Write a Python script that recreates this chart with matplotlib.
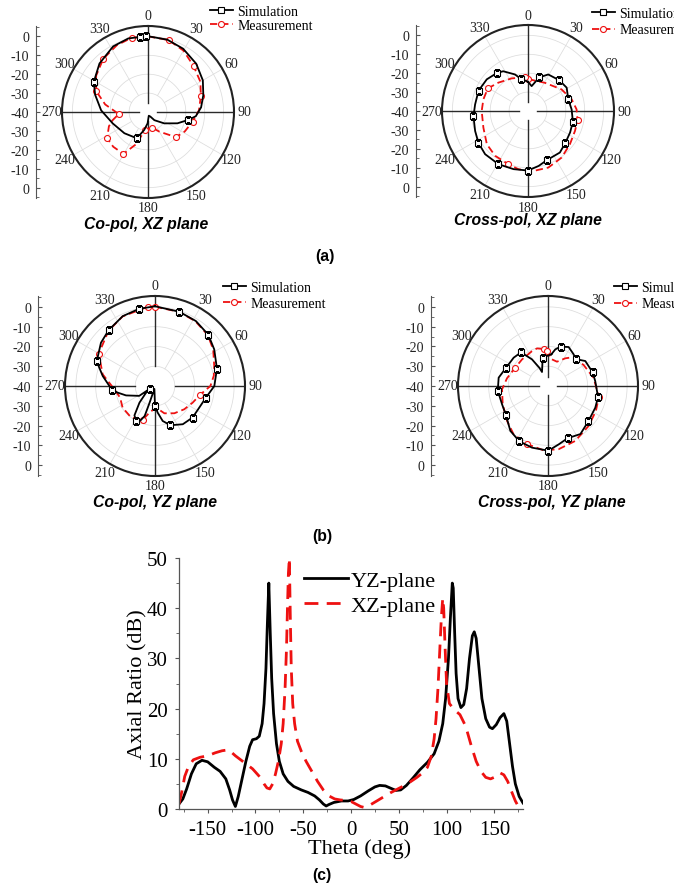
import numpy as np
import matplotlib
matplotlib.use('Agg')
import matplotlib.pyplot as plt
from matplotlib.ticker import MultipleLocator

# ---------------- data ----------------
# (a) Co-pol, XZ plane
copol_xz_sim_theta = [0, 15, 29, 45, 60, 73, 85, 95, 101, 111, 125, 142, 153, 168, 182, 192, 203, 228, 252, 272, 288, 299, 315, 332, 345, 354, 358.5]
copol_xz_sim_db = [0.1, -0.4, -1.7, -3.9, -6.5, -9.4, -11.8, -14.6, -18.2, -23.3, -29.5, -34.5, -37.3, -38, -34, -30.3, -24.9, -23.2, -20.4, -15.2, -10.6, -7.2, -3.7, -0.7, 0.3, -0.1, 0.1]
copol_xz_sim_marks = [101, 203, 299, 354, 358.5]
copol_xz_mea_theta = [0, 16, 30, 44.6, 60, 73.2, 88, 102.2, 118, 132, 150, 165.7, 189.5, 200, 210.4, 225, 237.3, 250, 257, 266, 280, 292, 305, 320, 335, 347.6]
copol_xz_mea_db = [0, -0.4, -2.5, -5.7, -8, -10.8, -13, -15.9, -18, -20.1, -28, -31.5, -30.4, -22, -14.3, -14, -14.3, -18, -20.8, -24.5, -17, -10.4, -6.5, -3.2, -1, 0.2]
copol_xz_mea_marks = [16, 44.6, 73.2, 102.2, 132, 165.7, 189.5, 210.4, 237.3, 266, 292, 320, 347.6]

# (a) Cross-pol, XZ plane
xpol_xz_sim_theta = [0, 8.3, 18.6, 29, 45.3, 58.9, 73.4, 88, 103.3, 117, 130.6, 142.5, 158.5, 169, 180, 194, 209, 224.8, 237.2, 249.3, 264.4, 277, 292.3, 307.5, 320.5, 328, 340.5, 347.7]
xpol_xz_sim_db = [-24.5, -26.7, -21.2, -17.9, -16.8, -16.1, -17.8, -16.9, -15.6, -15, -14, -12.3, -12.2, -10.4, -8.5, -8.3, -7.8, -7.8, -8.8, -10.1, -11.0, -11.8, -11.7, -12.5, -14.0, -15.2, -19.5, -22.7]
xpol_xz_sim_marks = [18.6, 45.3, 73.4, 103.3, 130.6, 158.5, 180, 209, 237.2, 264.4, 292.3, 320.5, 347.7]
xpol_xz_mea_theta = [0.6, 16, 31, 57.2, 75, 88, 100.6, 113, 128.4, 144.2, 160.3, 176.5, 189.4, 200.2, 216.3, 231, 249.5, 270, 284.6, 299.3, 313.7, 333.4, 354.9]
xpol_xz_mea_db = [-23.1, -23.5, -22.6, -18.9, -16.1, -14.3, -13.3, -13, -11.7, -9.6, -8.2, -8, -8.8, -10, -10.6, -12, -14.8, -15.5, -15.6, -15.6, -18.3, -20.7, -22.1]
xpol_xz_mea_marks = [0.6, 100.6, 200.2, 299.3, 354.9]

# (b) Co-pol, YZ plane
copol_yz_sim_theta = [0, 18.1, 32.2, 46.1, 58.3, 74.4, 90, 102.9, 116, 130, 144, 158.7, 167.6, 174.3, 180, 183, 192, 198, 199, 203, 208.5, 215, 223, 232, 242, 238, 252, 260, 264.7, 280.8, 292.9, 308.7, 320.4, 335.2, 348.5]
copol_yz_sim_db = [0.3, -0.5, -1.2, -2.6, -4.8, -7.5, -10, -13.6, -15.1, -15.2, -16.1, -18.7, -21.9, -26.5, -29.9, -36, -38.5, -31, -24, -21, -19.9, -21.9, -28.5, -34, -37.1, -30.6, -24.6, -20.8, -18.2, -13.1, -8.0, -5.0, -3.3, -1.1, -0.15]
copol_yz_sim_marks = [18.1, 46.1, 74.4, 102.9, 130, 158.7, 180, 208.5, 242, 264.7, 292.9, 320.4, 348.5]
copol_yz_mea_theta = [0, 18, 32, 46, 58, 71.4, 80, 90, 100.8, 113.9, 128.5, 144.7, 161, 177.4, 192, 200, 217, 236.2, 251.6, 265.3, 282.6, 299.9, 320, 335, 354.7]
copol_yz_mea_db = [0.1, -0.6, -1.4, -2.9, -5.3, -8.4, -9.8, -12, -16.7, -19.2, -21.1, -23.1, -25.4, -29.1, -26.2, -21.7, -20, -20.3, -21.4, -19.4, -12.9, -7.2, -3.5, -1.2, 0.2]
copol_yz_mea_marks = [0, 100.8, 200, 299.9, 354.7]

# (b) Cross-pol, YZ plane
xpol_yz_sim_theta = [6, 11.3, 17.8, 27.9, 39, 45.7, 56.2, 73, 84, 102.4, 114.6, 131.2, 146, 159.4, 169.6, 179.7, 194.5, 207.4, 220, 235.9, 248.3, 264.7, 279.6, 292.7, 309.5, 321.3, 329, 334.7, 336.8, 349, 358]
xpol_yz_sim_db = [-23.9, -21.1, -19.1, -17.7, -19.4, -20.5, -17.3, -16.4, -16, -14.1, -13.7, -12.9, -10.7, -11.8, -10, -7.3, -7.8, -8.5, -10.4, -14.2, -15, -14.5, -14.7, -16.8, -17.5, -18.2, -24.3, -29.8, -32.3, -25.8, -24.8]
xpol_yz_sim_marks = [17.8, 45.7, 73, 102.4, 131.2, 159.4, 179.7, 207.4, 235.9, 264.7, 292.7, 321.3, 349]
xpol_yz_mea_theta = [8.5, 20.3, 32, 41.5, 59.5, 79.7, 101.8, 117.5, 134.5, 153.6, 170.4, 183.9, 200.2, 215.4, 229.5, 248, 265.9, 280.6, 298.6, 315.7, 335.4, 343.7, 353.8, 358.9]
xpol_yz_mea_db = [-26.4, -26.9, -23.5, -20.5, -19.1, -16.6, -13.7, -12.7, -11.2, -9, -7.6, -7.4, -8.8, -10, -12.8, -15.3, -16.7, -18.9, -21, -21.2, -20.6, -20.2, -21.2, -22.5]
xpol_yz_mea_marks = [101.8, 200.2, 298.6, 353.8, 358.9]

# (c) Axial ratio
theta_yz = [-180, -176, -172, -167, -162, -156, -150, -143, -137, -131, -127, -124, -121, -118, -114, -110, -106, -103, -99, -96, -93, -91, -89, -87.5, -86, -84.5, -83, -81, -78, -75, -71, -66, -60, -52, -45, -38, -33, -29, -26, -23, -18, -10, -3, 3, 10, 18, 25, 30, 36, 42, 47, 52, 58, 65, 72, 80, 87, 92, 96, 99, 102, 104, 106, 107, 108.5, 110, 112, 115, 118, 121, 124, 127, 129, 131, 134, 137, 141, 145, 148, 152, 156, 160, 163, 166, 169, 172, 176, 180]
ar_yz = [1.0, 2.0, 4.0, 7.0, 9.0, 9.7, 9.4, 8.3, 7.5, 6.0, 3.8, 1.8, 0.5, 2.5, 6.0, 9.5, 12.5, 13.8, 14.0, 14.5, 17, 21, 28, 37, 45, 35, 26, 19, 13, 9.5, 7.0, 5.5, 4.5, 3.8, 3.3, 2.6, 1.8, 1.0, 0.6, 0.9, 1.3, 1.6, 1.6, 1.9, 2.6, 3.6, 4.4, 4.7, 4.6, 4.1, 3.7, 3.8, 4.7, 6.2, 7.8, 9.3, 11, 13.5, 17, 22, 30, 38, 45, 44, 35, 27, 22, 20.2, 20.8, 24, 30, 34.5, 35.3, 34, 28, 22, 18, 16.3, 16, 16.8, 18.2, 19, 17.5, 13, 8.5, 5, 2.5, 1.2]
theta_xz = [-180, -177, -174, -170, -165, -158, -150, -142, -135, -128, -121, -112, -103, -95, -91, -88, -85, -82, -79, -76, -73, -71, -69, -67.5, -66.5, -65.5, -64.5, -63.5, -62.5, -61, -59, -56, -52, -47, -41, -35, -29, -23, -17, -11, -5, 0, 5, 10, 14, 20, 27, 34, 41, 48, 55, 62, 69, 75, 80, 84, 87, 89, 91, 93, 94.5, 96, 97, 98.5, 100, 103, 108, 114, 120, 126, 131, 136, 141, 146, 151, 156, 160, 164, 168, 172, 176]
ar_xz = [1.0, 3.5, 6.5, 8.5, 9.8, 10.3, 10.6, 11.2, 11.6, 11.8, 10.6, 9.3, 8.0, 6.3, 5.0, 4.2, 4.0, 5.0, 7.0, 9.5, 13, 17, 24, 32, 40, 47, 50, 38, 28, 21, 17, 13.5, 11.5, 9.5, 7.5, 5.5, 3.8, 2.6, 2.0, 1.8, 1.7, 1.5, 1.0, 0.5, 0.3, 0.8, 1.6, 2.4, 3.2, 3.9, 4.6, 5.4, 6.3, 7.2, 8.3, 10.5, 14, 18, 24, 32, 38, 42, 40, 32, 25, 21, 19.8, 18.8, 16.5, 12.5, 9.5, 7.5, 6.3, 6.0, 6.4, 7.2, 6.8, 5.5, 3.5, 1.6, 0.2]

polar_angle_labels = list(range(0, 360, 30))
radial_tick_labels = ['0', '-10', '-20', '-30', '-40', '-30', '-20', '-10', '0']
legend_labels = ['Simulation', 'Measurement']
ar_legend = ['YZ-plane', 'XZ-plane']

# ---------------- figure ----------------
W, H = 674, 887
fig = plt.figure(figsize=(W / 100, H / 100), dpi=100)
SERIF = 'Liberation Serif'
SANS = 'Liberation Sans'
RED = '#ee1111'
GRID = '#dcdcdc'
RMIN, RMAX = -40, 5.5


def fx(px):
    return px / W


def fy(py):
    return 1 - py / H


def marker_idx(theta, marks):
    return [list(theta).index(m) for m in marks]


def polar_panel(cx, cy, R, axis_x, hole, st, sr, sm, mt, mr, mm,
                title, tx, ty, legx, legy, legsp):
    ax = fig.add_axes([fx(cx - R), fy(cy + R), 2 * R / W, 2 * R / H], projection='polar')
    ax.set_theta_zero_location('N')
    ax.set_theta_direction(-1)
    circ = np.linspace(0, 2 * np.pi, 361)
    for lev in [-30, -20, -10, 0]:
        ax.plot(circ, np.full_like(circ, lev), color=GRID, lw=0.55, zorder=1)
    for a in range(0, 360, 30):
        if a % 90:
            ax.plot([np.deg2rad(a)] * 2, [-30, RMAX], color=GRID, lw=0.55, zorder=1)
        else:
            ax.plot([np.deg2rad(a)] * 2, [hole, RMAX], color='#2a2a2a', lw=1.0, zorder=2)
    t = np.append(st, st[0] + 360)
    r = np.append(sr, sr[0])
    l1, = ax.plot(np.deg2rad(t), r, color='black', lw=1.3, marker='s', ms=4,
                  mfc='white', mec='black', mew=0.8, markevery=marker_idx(st, sm), zorder=4)
    t = np.append(mt, mt[0] + 360)
    r = np.append(mr, mr[0])
    l2, = ax.plot(np.deg2rad(t), r, color=RED, lw=1.3, dashes=(4, 2.2), marker='o', ms=4.3,
                  mfc='white', mec=RED, mew=0.8, markevery=marker_idx(mt, mm), zorder=3)
    ax.set_ylim(RMIN, RMAX)
    ax.grid(False)
    ax.set_xticks([])
    ax.set_yticks([])
    ax.spines['polar'].set_linewidth(1.5)
    ax.spines['polar'].set_color('#222222')
    r_lab = RMIN + (R + 10) / (R / (RMAX - RMIN))
    for a in polar_angle_labels:
        ax.text(np.deg2rad(a), r_lab, str(a), ha='center', va='center',
                fontsize=10, family=SERIF, color='#222222')
    # linear dB axis on the left
    la = fig.add_axes([fx(axis_x), fy(cy + R), 0.0001, 2 * R / H])
    la.set_ylim(-(RMAX - RMIN), RMAX - RMIN)
    la.set_yticks([40, 30, 20, 10, 0, -10, -20, -30, -40])
    la.set_yticklabels(radial_tick_labels, fontsize=10, family=SERIF, color='#222222')
    la.yaxis.set_minor_locator(MultipleLocator(5))
    la.set_xticks([])
    for s in ['top', 'right', 'bottom']:
        la.spines[s].set_visible(False)
    la.spines['left'].set_color('#555555')
    la.spines['left'].set_linewidth(0.8)
    la.tick_params(axis='y', which='major', direction='in', length=3, pad=5, color='#555555')
    la.tick_params(axis='y', which='minor', direction='in', length=2, color='#555555')
    fig.text(fx(tx), fy(ty), title, ha='center', va='center', fontsize=11.3,
             family=SANS, weight='bold', style='italic')
    fig.legend([l1, l2], legend_labels, loc='upper left', bbox_to_anchor=(fx(legx), fy(legy)),
               frameon=False, prop={'family': SERIF, 'size': 10}, handlelength=1.65,
               handletextpad=0.3, borderpad=0, borderaxespad=0, labelspacing=legsp)


polar_panel(148, 113, 86, 36, -35.5, copol_xz_sim_theta, copol_xz_sim_db, copol_xz_sim_marks,
            copol_xz_mea_theta, copol_xz_mea_db, copol_xz_mea_marks,
            'Co-pol, XZ plane', 146, 225, 210, 5.5, 0.08)
polar_panel(528, 112, 86, 416, -35.5, xpol_xz_sim_theta, xpol_xz_sim_db, xpol_xz_sim_marks,
            xpol_xz_mea_theta, xpol_xz_mea_db, xpol_xz_mea_marks,
            'Cross-pol, XZ plane', 528, 221, 592, 8, 0.25)
polar_panel(155, 387, 90, 38, -30, copol_yz_sim_theta, copol_yz_sim_db, copol_yz_sim_marks,
            copol_yz_mea_theta, copol_yz_mea_db, copol_yz_mea_marks,
            'Co-pol, YZ plane', 155, 503, 223, 282, 0.2)
polar_panel(548, 387, 90, 431, -35.5, xpol_yz_sim_theta, xpol_yz_sim_db, xpol_yz_sim_marks,
            xpol_yz_mea_theta, xpol_yz_mea_db, xpol_yz_mea_marks,
            'Cross-pol, YZ plane', 552, 503, 614, 282, 0.25)

# ---------------- (c) axial ratio ----------------
ax = fig.add_axes([fx(179), fy(810), (523 - 179) / W, (810 - 559) / H])
l_yz, = ax.plot(theta_yz, ar_yz, color='black', lw=2.0)
l_xz, = ax.plot(theta_xz, ar_xz, color=RED, lw=2.0, dashes=(5, 3))
ax.set_xlim(-180, 180)
ax.set_ylim(0, 50)
ax.set_xticks([-150, -100, -50, 0, 50, 100, 150])
ax.set_xticklabels(['-150', '-100', '-50', '0', '50', '100', '150'])
ax.set_yticks([0, 10, 20, 30, 40, 50])
ax.xaxis.set_minor_locator(MultipleLocator(25))
ax.yaxis.set_minor_locator(MultipleLocator(5))
for s in ['top', 'right']:
    ax.spines[s].set_visible(False)
for s in ['left', 'bottom']:
    ax.spines[s].set_color('#555555')
    ax.spines[s].set_linewidth(0.9)
ax.tick_params(which='major', direction='out', length=3, color='#555555', labelsize=15, pad=5)
ax.tick_params(which='minor', direction='out', length=2, color='#555555')
for lab in ax.get_xticklabels() + ax.get_yticklabels():
    lab.set_family(SERIF)
ax.set_xlabel('Theta (deg)', fontsize=16, family=SERIF)
ax.set_ylabel('Axial Ratio (dB)', fontsize=16, family=SERIF)
ax.xaxis.set_label_coords(0.526, -0.116)
ax.yaxis.set_label_coords(-0.092, 0.5)
fig.legend([l_yz, l_xz], ar_legend, loc='upper left', bbox_to_anchor=(fx(304), fy(571)),
           frameon=False, prop={'family': SERIF, 'size': 16}, handlelength=2.0,
           handletextpad=0.1, borderpad=0, borderaxespad=0, labelspacing=0.2)

for txt, x, y in [('(a)', 325, 256), ('(b)', 322, 537), ('(c)', 322, 876)]:
    fig.text(fx(x), fy(y), txt, ha='center', va='center', fontsize=11.3,
             family=SANS, weight='bold')

fig.savefig('out.png', dpi=100)
